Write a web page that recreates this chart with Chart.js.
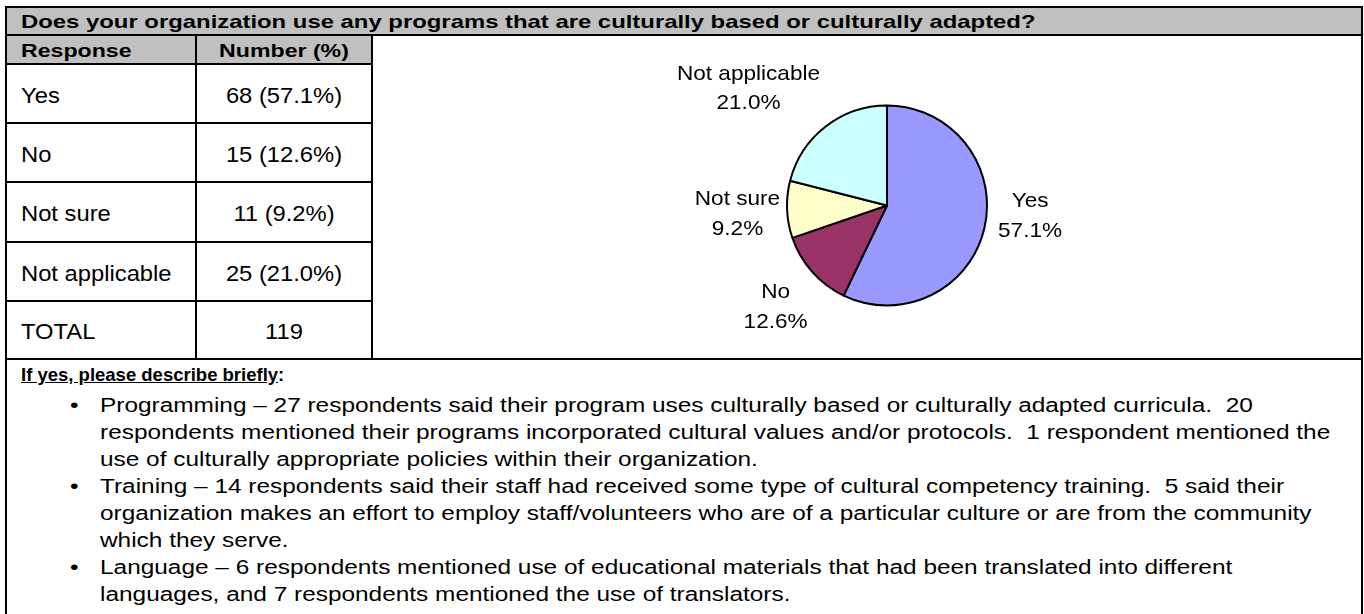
<!DOCTYPE html>
<html>
<head>
<meta charset="utf-8">
<title>Culturally based programs</title>
<script src="https://cdn.jsdelivr.net/npm/chart.js@4.4.0/dist/chart.umd.min.js"></script>
<style>
  html, body { margin: 0; padding: 0; background: #fff; }
  body { width: 1364px; height: 614px; position: relative; overflow: hidden;
         font-family: "Liberation Sans", Arial, sans-serif; color: #000; }
  .band { position: absolute; background: #c0c0c0; }
  .ln { position: absolute; background: #000; }
  .txt { position: absolute; white-space: pre; transform-origin: 0 0; }
  #pieBox { position: absolute; left: 373px; top: 36px; width: 988px; height: 322px; }
</style>
</head>
<body>
<!-- grey header bands -->
<div class="band" style="left:6px;top:7px;width:1356px;height:28px"></div>
<div class="band" style="left:6px;top:35px;width:366px;height:29px"></div>

<!-- grid lines -->
<div class="ln" style="left:5px;top:6px;width:1358px;height:2px"></div>
<div class="ln" style="left:5px;top:6px;width:2px;height:608px"></div>
<div class="ln" style="left:1361px;top:6px;width:2px;height:608px"></div>
<div class="ln" style="left:5px;top:34px;width:1358px;height:2px"></div>
<div class="ln" style="left:5px;top:63px;width:368px;height:2px"></div>
<div class="ln" style="left:5px;top:122px;width:368px;height:2px"></div>
<div class="ln" style="left:5px;top:181px;width:368px;height:2px"></div>
<div class="ln" style="left:5px;top:241px;width:368px;height:2px"></div>
<div class="ln" style="left:5px;top:300px;width:368px;height:2px"></div>
<div class="ln" style="left:5px;top:358px;width:1358px;height:2px"></div>
<div class="ln" style="left:195px;top:34px;width:2px;height:326px"></div>
<div class="ln" style="left:371px;top:34px;width:2px;height:326px"></div>

<div id="pieBox"><canvas id="pie" width="988" height="322"></canvas></div>

<script>
// survey answers
const responses = ["Yes", "No", "Not sure", "Not applicable"];
const counts = [68, 15, 11, 25];
const sliceColors = ["#9999ff", "#993366", "#ffffcc", "#ccffff"];

const total = counts.reduce((a, b) => a + b, 0);
const pct = counts.map(c => (c / total * 100).toFixed(1));

const question = "Does your organization use any programs that are culturally based or culturally adapted?";
const colHeads = ["Response", "Number (%)"];
const notesTitle = "If yes, please describe briefly";
const notes = [
  ["Programming \u2013 27 respondents said their program uses culturally based or culturally adapted curricula.  20",
   "respondents mentioned their programs incorporated cultural values and/or protocols.  1 respondent mentioned the",
   "use of culturally appropriate policies within their organization."],
  ["Training \u2013 14 respondents said their staff had received some type of cultural competency training.  5 said their",
   "organization makes an effort to employ staff/volunteers who are of a particular culture or are from the community",
   "which they serve."],
  ["Language \u2013 6 respondents mentioned use of educational materials that had been translated into different",
   "languages, and 7 respondents mentioned the use of translators."]
];

// text placed by its baseline
function put(text, x, base, size, o = {}) {
  const d = document.createElement("div");
  d.className = "txt";
  d.textContent = text;
  d.style.fontSize = size + "px";
  d.style.lineHeight = (size * 1.15) + "px";
  d.style.top = (base - size * 0.9215) + "px";
  d.style.left = x + "px";
  if (o.bold) d.style.fontWeight = "bold";
  if (o.underline) d.style.textDecoration = "underline";
  const s = o.scale || 1;
  d.style.transform = o.center ? `scaleX(${s}) translateX(-50%)` : `scaleX(${s})`;
  document.body.appendChild(d);
  return d;
}

// header rows
put(question, 21, 28.5, 18.5, { bold: true, scale: 1.29 });
put(colHeads[0], 21, 56.7, 18.5, { bold: true, scale: 1.25 });
put(colHeads[1], 284, 56.7, 18.5, { bold: true, scale: 1.25, center: true });

// table body
const rowMid = [93.5, 152.5, 212, 271.5, 330];
responses.forEach((r, i) => {
  put(r, 21, rowMid[i] + 9.7, 22, { scale: 1.08 });
  put(`${counts[i]} (${pct[i]}%)`, 284, rowMid[i] + 9.7, 22, { scale: 1.08, center: true });
});
put("TOTAL", 21, rowMid[4] + 9.7, 22, { scale: 1.08 });
put(String(total), 284, rowMid[4] + 9.7, 22, { scale: 1.08, center: true });

// comments block
const t = put(notesTitle, 21, 381, 18.5, { bold: true, underline: true });
const colon = document.createElement("span");
colon.textContent = ":";
colon.style.display = "inline-block";
t.appendChild(colon);

let line = 0;
notes.forEach(block => {
  block.forEach((txt, k) => {
    const base = 412.5 + line * 27;
    if (k === 0) put("\u2022", 70, base, 20, { scale: 1.22 });
    put(txt, 100, base, 20, { scale: 1.22 });
    line++;
  });
});

// labels outside each slice: name and share
const outsideLabels = {
  id: "outsideLabels",
  afterDatasetsDraw(chart, args, opts) {
    const { ctx } = chart;
    const meta = chart.getDatasetMeta(0);
    ctx.save();
    ctx.font = opts.size + "px 'Liberation Sans', Arial, sans-serif";
    ctx.fillStyle = "#000";
    ctx.textAlign = "center";
    ctx.textBaseline = "alphabetic";
    meta.data.forEach((arc, i) => {
      const p = arc.getProps(["x", "y", "startAngle", "endAngle", "outerRadius"], true);
      const mid = (p.startAngle + p.endAngle) / 2;
      const dx = Math.cos(mid), dy = Math.sin(mid);
      const lines = [chart.data.labels[i], pct[i] + "%"];
      const w = Math.max(...lines.map(s => ctx.measureText(s).width)) * opts.stretch;
      const h = opts.cap + opts.gapLine;
      const R = p.outerRadius + opts.gap;
      const cx = p.x + dx * R + dx * w / 2 + opts.shift[i][0];
      const cy = p.y + dy * R + dy * h / 2 + opts.shift[i][1];
      lines.forEach((s, k) => {
        ctx.save();
        ctx.translate(cx, cy - h / 2 + opts.cap + k * opts.gapLine);
        ctx.scale(opts.stretch, 1);
        ctx.fillText(s, 0, 0);
        ctx.restore();
      });
    });
    ctx.restore();
  }
};

new Chart(document.getElementById("pie"), {
  type: "pie",
  data: {
    labels: responses,
    datasets: [{
      data: counts,
      backgroundColor: sliceColors,
      borderColor: "#000",
      borderWidth: 2,
      radius: 100
    }]
  },
  options: {
    responsive: false,
    animation: false,
    layout: { padding: { left: 40, top: 17, right: 0, bottom: 0 } },
    plugins: {
      legend: { display: false },
      tooltip: { enabled: false },
      outsideLabels: {
        size: 21, stretch: 1.075, cap: 15, gapLine: 29.5, gap: 25,
        shift: [[-10, -24], [6, 2], [18, 1], [-18, -2]]
      }
    }
  },
  plugins: [outsideLabels]
});
</script>
</body>
</html>
